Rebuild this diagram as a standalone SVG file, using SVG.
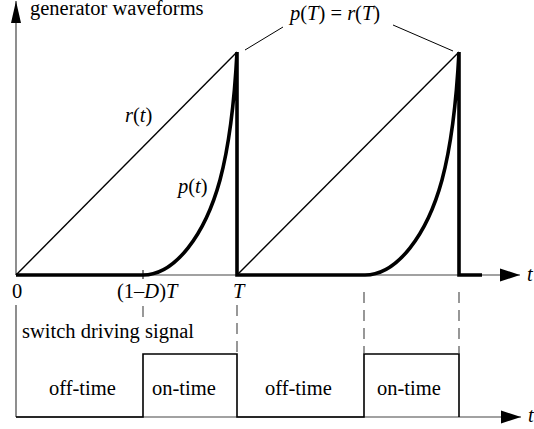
<svg xmlns="http://www.w3.org/2000/svg" width="534" height="429" viewBox="0 0 534 429">
<style>
.lbl text{font-family:"Liberation Serif","Times New Roman","DejaVu Serif",serif;font-size:20.5px;fill:#000}
.i{font-style:italic}
.axis{stroke:#444;stroke-width:1.2;fill:none}
.thick{stroke:#000;stroke-width:3.6;fill:none;stroke-linejoin:miter}
.thin{stroke:#000;stroke-width:1.4;fill:none}
.lead{stroke:#000;stroke-width:1;fill:none}
.dash{stroke:#444;stroke-width:1.1;stroke-dasharray:11 7;fill:none}
.sq{stroke:#000;stroke-width:1.6;fill:none}
</style>
<defs>
<marker id="ah" markerUnits="userSpaceOnUse" markerWidth="22" markerHeight="14" refX="20" refY="7" orient="auto"><path d="M0,0.5 L20,7 L0,13.5 z" fill="#000"/></marker>
<marker id="av" markerUnits="userSpaceOnUse" markerWidth="24" markerHeight="12" refX="22" refY="5" orient="auto"><path d="M0,0 L22,5 L0,10 z" fill="#000"/></marker>
</defs>
<g id="axes">
<line class="axis" x1="16" y1="275" x2="16" y2="1" marker-end="url(#av)"/>
<line class="axis" x1="16" y1="275" x2="520" y2="275" marker-end="url(#ah)"/>
<line x1="143" y1="270" x2="143" y2="279" stroke="#000" stroke-width="1"/>
<line class="axis" x1="16" y1="305" x2="16" y2="417"/>
<line class="axis" x1="16" y1="417" x2="521" y2="417" marker-end="url(#ah)"/>
</g>
<g id="waveforms">
<line class="thin" x1="16" y1="275" x2="237" y2="52"/>
<line class="thin" x1="237" y1="275" x2="459" y2="52"/>
<path class="thick" d="M16,275 H143 C175,275 205,235 220,180 C228,150 234,110 237,52 V275 H365 C397,275 427,235 442,180 C450,150 456,110 459,52 V275 H482"/>
</g>
<g id="switch-signal">
<path class="sq" d="M16,417 H143 V354 H237 V417 H364 V354 H459 V417"/>
</g>
<g id="connectors">
<line class="lead" x1="245" y1="50" x2="283" y2="27"/>
<line class="lead" x1="393" y1="25" x2="453" y2="51"/>
<line class="dash" x1="143" y1="306" x2="143" y2="318"/>
<line class="dash" x1="237" y1="305" x2="237" y2="354"/>
<line class="dash" x1="364" y1="292" x2="364" y2="354"/>
<line class="dash" x1="459" y1="292" x2="459" y2="354"/>
</g>
<g id="labels" class="lbl">
<text x="30" y="15">generator waveforms</text>
<text x="290" y="20"><tspan class="i">p</tspan>(<tspan class="i">T</tspan>) = <tspan class="i">r</tspan>(<tspan class="i">T</tspan>)</text>
<text x="125" y="122"><tspan class="i">r</tspan>(<tspan class="i">t</tspan>)</text>
<text x="178" y="193"><tspan class="i">p</tspan>(<tspan class="i">t</tspan>)</text>
<text x="527" y="281" class="i">t</text>
<text x="12" y="298">0</text>
<text x="117" y="298">(1–<tspan class="i">D</tspan>)<tspan class="i">T</tspan></text>
<text x="233" y="298" class="i">T</text>
<text x="22" y="338">switch driving signal</text>
<text x="49" y="395">off-time</text>
<text x="152" y="395">on-time</text>
<text x="265" y="395">off-time</text>
<text x="377" y="395">on-time</text>
<text x="528" y="422" class="i">t</text>
</g>
</svg>
